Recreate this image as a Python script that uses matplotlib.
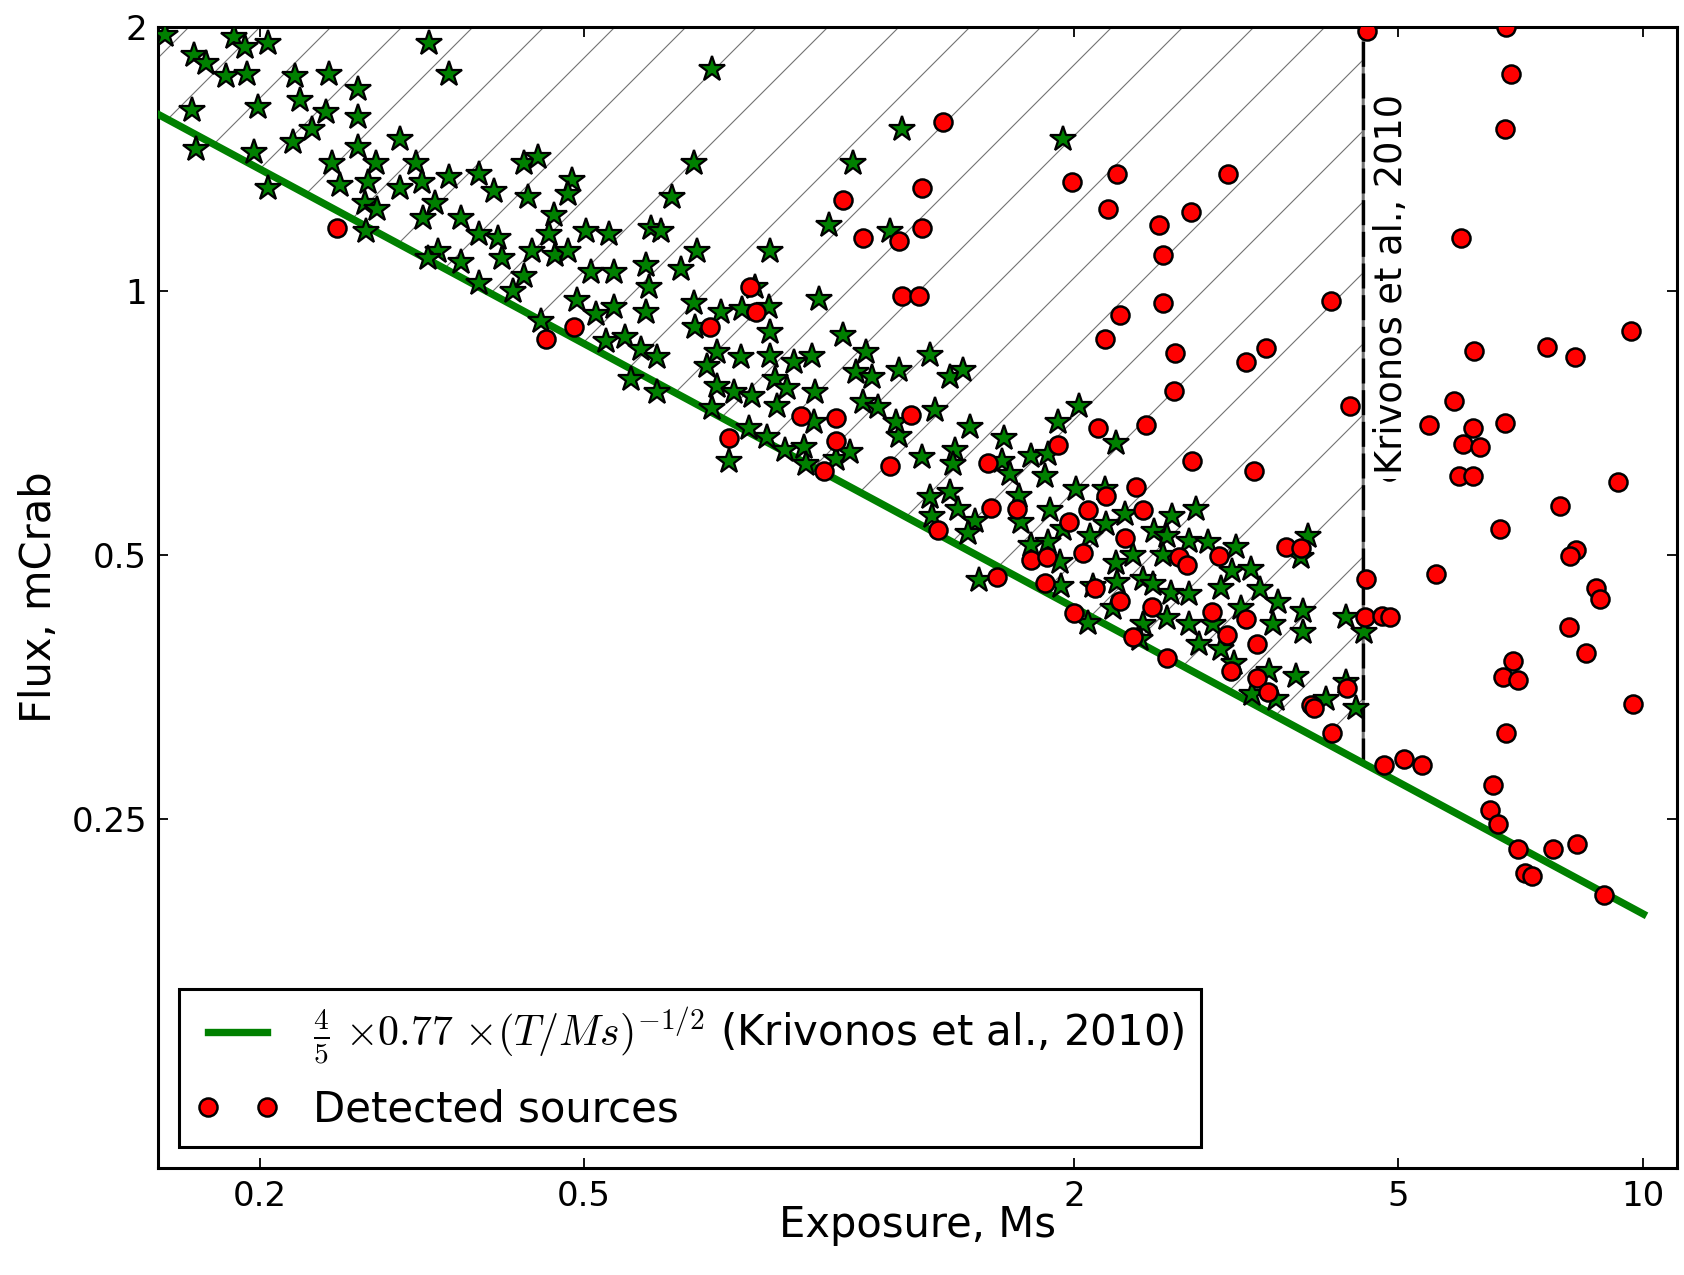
import numpy as np
import matplotlib
matplotlib.use("Agg")
import matplotlib.pyplot as plt
from matplotlib.patches import Polygon
from matplotlib.lines import Line2D
from matplotlib.ticker import NullLocator

# ---------------- data ----------------
star_exposure = [
    0.153, 0.186, 0.192, 0.205, 0.323, 0.166, 0.172, 0.182, 0.193, 0.221,
    0.243, 0.342, 0.264, 0.224, 0.165, 0.199, 0.241, 0.264, 0.232, 0.220,
    0.264, 0.297, 0.167, 0.197, 0.245, 0.278, 0.311, 0.251, 0.272, 0.297,
    0.316, 0.342, 0.372, 0.422, 0.439, 0.388, 0.427, 0.205, 0.269, 0.279,
    0.328, 0.317, 0.353, 0.372, 0.392, 0.432, 0.397, 0.331, 0.322, 0.353,
    0.270, 0.422, 0.372, 0.409, 0.443,
    0.719, 1.23, 1.07, 0.682, 0.484, 0.478, 0.642, 0.460, 0.453, 0.503,
    0.537, 0.604, 0.622, 1.00, 1.19, 0.461, 0.478, 0.689, 0.847, 0.510,
    0.545, 0.596, 0.658, 0.601, 0.491, 0.517, 0.545, 0.596, 0.682, 0.736,
    0.782, 0.843, 0.811, 0.972, 0.685, 0.847, 1.04,
    0.533, 0.561, 0.587, 0.615, 0.571, 0.615, 0.729, 0.709, 0.779, 0.847,
    0.905, 0.953, 1.11, 1.22, 1.08, 1.13, 0.729, 0.764, 0.804, 0.858,
    0.889, 0.961, 0.719, 0.863, 1.10, 1.15, 0.958, 0.797, 0.840, 0.884,
    0.931, 0.936, 1.02, 1.06, 0.753, 1.22, 1.21, 1.30,
    1.94,
    1.33, 1.41, 1.46, 1.35, 1.49, 2.03, 1.91, 2.25, 1.64, 1.43,
    1.42, 1.77, 1.86, 1.63, 1.67, 1.84, 2.01, 2.18, 1.71, 1.41,
    1.33, 1.44, 1.87, 2.31, 2.64, 2.82, 1.51, 1.34, 1.72, 1.48,
    2.19, 1.94, 2.51, 2.09, 2.60, 2.77, 2.92, 3.16, 3.87, 3.80,
    1.86, 1.77, 1.92, 2.25, 2.36, 2.57, 3.13, 3.30, 1.53, 1.93,
    2.11, 2.26, 2.43, 2.50, 2.63, 2.77, 3.03, 3.38, 3.56, 2.23,
    2.60, 2.77, 2.96, 3.21, 3.51, 3.82, 3.82, 2.08, 2.43, 2.41,
    2.85,
    3.03, 3.14, 3.47, 3.75, 3.31, 3.54,
    4.31, 4.54, 4.08, 4.44, 4.31,
]
star_flux = [
    1.96, 1.95, 1.90, 1.92, 1.92, 1.86, 1.82, 1.76, 1.77, 1.76,
    1.77, 1.77, 1.70, 1.65, 1.61, 1.62, 1.60, 1.58, 1.53, 1.48,
    1.46, 1.49, 1.45, 1.44, 1.40, 1.40, 1.40, 1.32, 1.33, 1.31,
    1.33, 1.35, 1.36, 1.40, 1.42, 1.30, 1.28, 1.31, 1.26, 1.24,
    1.26, 1.21, 1.21, 1.16, 1.15, 1.11, 1.09, 1.11, 1.09, 1.08,
    1.17, 1.04, 1.02, 1.00, 0.925,
    1.79, 1.53, 1.40, 1.40, 1.34, 1.29, 1.28, 1.22, 1.16, 1.17,
    1.16, 1.18, 1.17, 1.19, 1.17, 1.10, 1.11, 1.11, 1.11, 1.05,
    1.05, 1.07, 1.06, 1.01, 0.976, 0.942, 0.959, 0.946, 0.968, 0.946,
    0.955, 0.959, 1.01, 0.980, 0.909, 0.898, 0.890,
    0.878, 0.886, 0.859, 0.840, 0.794, 0.767, 0.851, 0.822, 0.840, 0.844,
    0.829, 0.844, 0.851, 0.812, 0.808, 0.797, 0.780, 0.767, 0.760, 0.794,
    0.776, 0.767, 0.735, 0.740, 0.747, 0.738, 0.709, 0.697, 0.681, 0.658,
    0.664, 0.635, 0.644, 0.655, 0.640, 0.684, 0.709, 0.646,
    1.49,
    0.846, 0.797, 0.812, 0.731, 0.699, 0.740, 0.709, 0.671, 0.679, 0.658,
    0.635, 0.649, 0.652, 0.640, 0.618, 0.616, 0.595, 0.595, 0.584, 0.590,
    0.582, 0.564, 0.562, 0.557, 0.554, 0.564, 0.547, 0.554, 0.545, 0.530,
    0.542, 0.535, 0.533, 0.526, 0.526, 0.519, 0.517, 0.510, 0.526, 0.497,
    0.517, 0.513, 0.491, 0.489, 0.500, 0.500, 0.480, 0.482, 0.468, 0.461,
    0.461, 0.466, 0.470, 0.463, 0.453, 0.451, 0.459, 0.457, 0.442, 0.435,
    0.424, 0.417, 0.417, 0.435, 0.417, 0.432, 0.408, 0.418, 0.417, 0.401,
    0.396,
    0.391, 0.377, 0.369, 0.364, 0.347, 0.343,
    0.425, 0.408, 0.343, 0.335, 0.358,
]

det_exposure = [
    0.249, 1.04, 1.30, 1.10, 1.22, 1.30, 0.801, 0.813, 1.23, 1.29,
    0.715, 0.486, 0.449, 0.753, 0.923, 1.02, 1.02, 0.985, 1.19, 1.26,
    1.38, 1.99, 2.26, 3.09, 2.20, 2.54, 2.78, 2.57, 2.57, 2.28, 2.18,
    2.66, 3.44, 3.25, 2.65, 2.14, 2.45, 1.91, 2.79, 3.33, 1.57,
    2.38, 2.19, 1.58, 1.70, 2.08, 2.43, 1.36, 1.97, 2.31, 3.64,
    3.80, 1.77, 1.85, 2.05, 2.69, 2.75, 3.01, 1.61, 1.84, 2.12,
    2.28, 2.49, 2.95, 3.25, 2.00, 2.36, 3.08, 3.35,
    2.60, 3.12, 3.35, 3.46, 3.91,
    4.58, 6.78, 6.87, 6.76, 5.98, 4.14, 9.67,
    6.20, 7.62, 8.25, 4.36, 5.85, 5.46, 6.18, 6.76, 6.01, 6.31,
    5.94, 6.18, 4.87, 9.31, 7.90, 6.67, 8.27, 8.12, 5.56, 4.56,
    8.75, 8.84, 4.55, 4.78, 4.88, 8.11, 8.51,
    6.92, 6.73, 7.02, 9.70, 6.79, 4.33, 3.94, 4.15, 4.80, 5.08,
    5.35, 6.54, 6.48, 6.64, 7.01, 7.74, 8.29, 7.15, 7.29, 8.94,
]
det_flux = [
    1.18, 1.27, 1.31, 1.15, 1.14, 1.18, 1.01, 0.946, 0.986, 0.986,
    0.909, 0.909, 0.882, 0.679, 0.720, 0.717, 0.675, 0.624, 0.632, 0.722,
    1.56, 1.33, 1.36, 1.36, 1.24, 1.19, 1.23, 1.10, 0.968, 0.940, 0.882,
    0.849, 0.861, 0.831, 0.770, 0.697, 0.703, 0.667, 0.640, 0.624, 0.637,
    0.597, 0.584, 0.566, 0.564, 0.562, 0.563, 0.534, 0.545, 0.523, 0.511,
    0.509, 0.494, 0.498, 0.502, 0.497, 0.487, 0.499, 0.472, 0.465, 0.459,
    0.443, 0.436, 0.430, 0.423, 0.429, 0.403, 0.405, 0.396,
    0.382, 0.369, 0.362, 0.349, 0.337,
    1.98, 2.00, 1.77, 1.53, 1.15, 0.974, 0.900,
    0.854, 0.864, 0.842, 0.739, 0.750, 0.704, 0.698, 0.707, 0.670, 0.664,
    0.616, 0.615, 0.624, 0.606, 0.568, 0.535, 0.507, 0.499, 0.476, 0.469,
    0.459, 0.446, 0.425, 0.426, 0.425, 0.414, 0.387,
    0.379, 0.363, 0.360, 0.338, 0.313, 0.353, 0.335, 0.313, 0.288, 0.293,
    0.288, 0.273, 0.256, 0.247, 0.231, 0.231, 0.234, 0.217, 0.215, 0.205,
]

x_ticks = [0.2, 0.5, 2, 5, 10]
x_tick_labels = ["0.2", "0.5", "2", "5", "10"]
y_ticks = [0.25, 0.5, 1, 2]
y_tick_labels = ["0.25", "0.5", "1", "2"]

sens_norm = 4.0 / 5.0 * 0.77      # mCrab at 1 Ms
t_min, t_max = 0.15, 10.0         # range of the sensitivity curve, Ms
t_survey = 4.53                   # exposure limit of Krivonos et al., 2010
x_limits = (0.15, 11.0)
y_limits = (0.1, 2.0)


def sensitivity(t):
    return sens_norm * np.asarray(t, dtype=float) ** -0.5


# ---------------- figure ----------------
plt.rcParams["font.family"] = ["DejaVu Sans"]
plt.rcParams["mathtext.fontset"] = "cm"

W, H = 1684, 1275
fig = plt.figure(figsize=(W / 100, H / 100), dpi=100)
L, R, T, B = 158, 1677, 27, 1168
ax = fig.add_axes([L / W, 1 - B / H, (R - L) / W, (B - T) / H])
ax.set_xscale("log")
ax.set_yscale("log")

# hatched region above the sensitivity curve, left of the survey limit
hatch_t = [t_min, t_survey, t_survey, t_min]
hatch_f = [float(sensitivity(t_min)), float(sensitivity(t_survey)),
           y_limits[1], y_limits[1]]
region = Polygon(np.column_stack([hatch_t, hatch_f]), closed=True,
                 facecolor="none", edgecolor="0.45", lw=2.2, zorder=1)
ax.add_patch(region)

slope = (R - L) / (B - T)          # 45 degree lines in pixel space
step = 71.0 / (B - T)
c0 = -0.085
for k in range(-60, 60):
    c = c0 + k * step
    if c > 1.0 or c < -slope:
        continue
    ln = Line2D([0, 1], [c, c + slope], transform=ax.transAxes,
                color="0.45", lw=0.8, zorder=1)
    ax.add_line(ln)
    ln.set_clip_path(region)

# sensitivity curve
t_line = np.logspace(np.log10(t_min), np.log10(t_max), 200)
line, = ax.plot(t_line, sensitivity(t_line), color="green", lw=5.3, zorder=3,
                label=r"$\frac{4}{5}\ {\times}0.77\ {\times}(T/Ms)^{-1/2}$ (Krivonos et al., 2010)")

# survey limit
ax.plot([t_survey, t_survey], [float(sensitivity(t_survey)), y_limits[1]],
        color="k", lw=2.4, ls=(0, (7.5, 2.0)), zorder=2)

# sources
ax.plot(star_exposure, star_flux, ls="none", marker="*", ms=19,
        mfc="green", mec="k", mew=1.6, zorder=4)
det, = ax.plot(det_exposure, det_flux, ls="none", marker="o", ms=13,
               mfc="red", mec="k", mew=1.8, zorder=5, label="Detected sources")

ax.text(4.66, 1.68, "Krivonos et al., 2010", rotation=90, ha="left", va="top",
        fontsize=26.5, zorder=6,
        bbox=dict(boxstyle="square,pad=0.15", facecolor="white", edgecolor="none"))

# axes
ax.set_xlim(*x_limits)
ax.set_ylim(*y_limits)
ax.set_xticks(x_ticks)
ax.set_xticklabels(x_tick_labels)
ax.set_yticks(y_ticks)
ax.set_yticklabels(y_tick_labels)
ax.xaxis.set_minor_locator(NullLocator())
ax.yaxis.set_minor_locator(NullLocator())
ax.tick_params(which="major", direction="in", length=7.5, width=1.3,
               top=True, right=True, labelsize=24.5)
ax.tick_params(axis="x", pad=9)
ax.tick_params(axis="y", pad=8)
for s in ax.spines.values():
    s.set_linewidth(2.2)

ax.set_xlabel("Exposure, Ms", fontsize=30, labelpad=-7)
ax.set_ylabel("Flux, mCrab", fontsize=30, labelpad=8)

leg = ax.legend(handles=[line, det], loc="lower left", numpoints=2, fontsize=30.2,
                handlelength=2.0, handletextpad=0.8, borderaxespad=0.5,
                fancybox=False, framealpha=1.0, edgecolor="k")
leg.get_frame().set_linewidth(2.2)
leg.set_zorder(10)

fig.savefig("out.png", dpi=100)
